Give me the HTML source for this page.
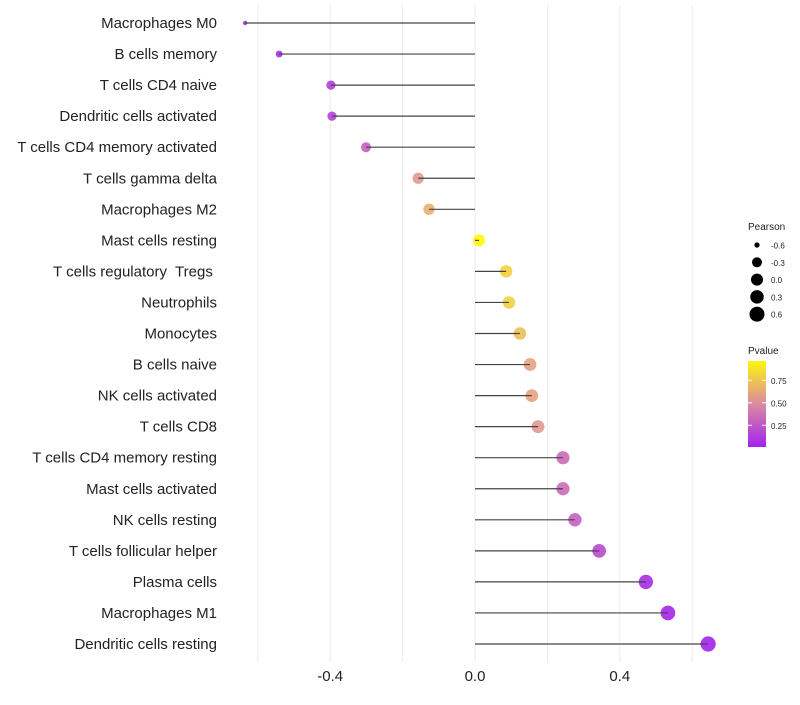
<!DOCTYPE html>
<html><head><meta charset="utf-8"><style>
body{margin:0;background:#fff;font-family:"Liberation Sans",sans-serif}
svg text{font-family:"Liberation Sans",sans-serif;white-space:pre}
</style></head><body>
<svg id="c" width="800" height="700"></svg>
<script>
const categories=["Macrophages M0","B cells memory","T cells CD4 naive","Dendritic cells activated","T cells CD4 memory activated","T cells gamma delta","Macrophages M2","Mast cells resting","T cells regulatory  Tregs ","Neutrophils","Monocytes","B cells naive","NK cells activated","T cells CD8","T cells CD4 memory resting","Mast cells activated","NK cells resting","T cells follicular helper","Plasma cells","Macrophages M1","Dendritic cells resting"];
const pearson=[-0.635,-0.541,-0.398,-0.395,-0.301,-0.157,-0.127,0.011,0.086,0.094,0.124,0.152,0.157,0.174,0.243,0.243,0.276,0.343,0.472,0.533,0.644];
const pvalue=[0.05,0.05,0.15,0.15,0.3,0.55,0.65,0.97,0.8,0.8,0.72,0.6,0.6,0.55,0.35,0.35,0.3,0.2,0.05,0.03,0.02];
const xTicks=[-0.4,0.0,0.4];
const gridVals=[-0.6,-0.4,-0.2,0,0.2,0.4,0.6];
const sizeLegend=[-0.6,-0.3,0.0,0.3,0.6];
const pTicks=[0.75,0.50,0.25];

const NS="http://www.w3.org/2000/svg";
const svg=document.getElementById('c');
function el(t,a,p){const e=document.createElementNS(NS,t);for(const k in a)e.setAttribute(k,a[k]);(p||svg).appendChild(e);return e;}
const x=v=>475+v*362;
const y=i=>23+i*31.05;
const rk=[[-0.65,2],[-0.55,3.3],[-0.4,4.6],[-0.15,5.6],[0,6],[0.65,7.6]];
function rad(v){if(v<=rk[0][0])return rk[0][1];for(let k=1;k<rk.length;k++){if(v<=rk[k][0]){const a=rk[k-1],b=rk[k];return a[1]+(b[1]-a[1])*(v-a[0])/(b[0]-a[0]);}}return rk[rk.length-1][1];}
const stops=[[0,[160,32,240]],[0.5,[220,140,160]],[1,[255,255,0]]];
function col(p){let a=stops[0],b=stops[1];if(p>0.5){a=stops[1];b=stops[2];}const t=(p-a[0])/(b[0]-a[0]);const c=a[1].map((v,k)=>Math.round(v+(b[1][k]-v)*t));return `rgb(${c})`;}

gridVals.forEach(v=>{
 const g=el('line',{x1:x(v),x2:x(v),y1:5,y2:662,stroke:'#ebebeb','stroke-width':1});
 
 
});
xTicks.forEach(v=>{
 const t=el('text',{x:x(v),y:681,'text-anchor':'middle','font-size':15,fill:'#222'});
 t.textContent=v.toFixed(1);
 
 
});
categories.forEach((c,i)=>{
 const t=el('text',{x:217,y:y(i)+5,'text-anchor':'end','font-size':15,fill:'#222'});
 t.textContent=c;
 
 
 const pt=el('circle',{cx:x(pearson[i]),cy:y(i),r:rad(pearson[i]),fill:col(pvalue[i]),'fill-opacity':0.9});
 
 
 const s=el('line',{x1:x(0),x2:x(pearson[i]),y1:y(i),y2:y(i),stroke:'#444','stroke-width':1.2});
 
 
});
const lt=el('text',{x:748,y:230,'font-size':10,fill:'#222'});lt.textContent='Pearson';


sizeLegend.forEach((v,i)=>{
 const cy=245+i*17.3;
 const c=el('circle',{cx:757,cy:cy,r:rad(v),fill:'#000'});
 
 
 const t=el('text',{x:771,y:cy+3.5,'font-size':8,fill:'#222'});t.textContent=v.toFixed(1);
 
 
});
const pt=el('text',{x:748,y:354,'font-size':10,fill:'#222'});pt.textContent='Pvalue';


const defs=el('defs',{});const lg=el('linearGradient',{id:'g',x1:0,y1:1,x2:0,y2:0},defs);
[0,0.25,0.5,0.75,1].forEach(o=>el('stop',{offset:o,'stop-color':col(0.02+o*0.94)},lg));
const bar=el('rect',{x:748,y:361,width:18,height:86,fill:'url(#g)'});


const py=p=>446-(p-0.02)/0.25*22.5;
pTicks.forEach(p=>{
 el('line',{x1:748,x2:752,y1:py(p),y2:py(p),stroke:'#fff'});
 el('line',{x1:762,x2:766,y1:py(p),y2:py(p),stroke:'#fff'});
 const t=el('text',{x:771,y:py(p)+3.5,'font-size':8,fill:'#222'});t.textContent=p.toFixed(2);
 
 
});
</script>
</body></html>
